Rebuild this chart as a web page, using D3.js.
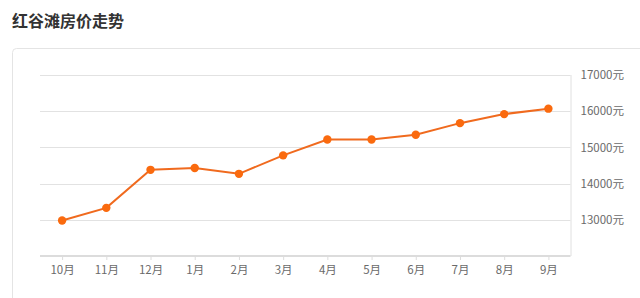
<!DOCTYPE html>
<html><head><meta charset="utf-8">
<script src="https://cdn.jsdelivr.net/npm/d3@7"></script>
<style>
html,body{margin:0;padding:0;background:#fff;}
svg{display:block;font-family:"Noto Sans CJK SC","Noto Sans",sans-serif;}
</style></head>
<body>
<svg id="c" width="640" height="298"></svg>
<script>
const title = "红谷滩房价走势";
const months = ["10月","11月","12月","1月","2月","3月","4月","5月","6月","7月","8月","9月"];
const prices = [12980,13330,14380,14430,14270,14780,15220,15220,15350,15670,15920,16070];
const yTicks = [13000,14000,15000,16000,17000];
const yUnit = "元";

(function(){
const svg = d3.select("#c");
svg.append("text").attr("x",12).attr("y",27).attr("font-size",16).attr("font-weight","bold")
  .attr("fill","#333").text(title);
svg.append("rect").attr("x",12.5).attr("y",48.5).attr("width",660).attr("height",300)
  .attr("rx",4).attr("fill","#fff").attr("stroke","#e4e4e4");

const pl=40, pr=570.5, pt=75, pb=256;
const x = d3.scalePoint().domain(months).range([pl,pr]).padding(0.5);
const y = d3.scaleLinear().domain([12000,17000]).range([pb,pt]);

svg.append("g").selectAll("line").data(yTicks).join("line")
  .attr("x1",pl).attr("x2",pr).attr("y1",d=>Math.round(y(d))+0.5).attr("y2",d=>Math.round(y(d))+0.5)
  .attr("stroke","#e2e2e2");
const ya = svg.append("g").attr("transform",`translate(${pr},0)`)
  .call(d3.axisRight(y).tickValues(yTicks).tickSize(0).tickPadding(10).tickFormat(d=>d+yUnit));
ya.select(".domain").attr("stroke","#e0e0e0").attr("d",`M0.5,${pt}V${pb}`);
ya.selectAll("text").attr("font-size",11.5).attr("fill","#6a6a6a").attr("font-family","'Noto Sans CJK SC',sans-serif");

const xa = svg.append("g").attr("transform",`translate(0,${pb})`)
  .call(d3.axisBottom(x).tickSize(4).tickPadding(6));
xa.select(".domain").attr("stroke","#dcdcdc").attr("stroke-width",2).attr("d",`M${pl},0H${pr}`);
xa.selectAll(".tick line").attr("stroke","#dcdcdc");
xa.selectAll("text").attr("font-size",11.5).attr("fill","#6a6a6a").attr("font-family","'Noto Sans CJK SC',sans-serif");

const data = months.map((m,i)=>({m,v:prices[i]}));
svg.append("path").datum(data)
  .attr("d",d3.line().x(d=>x(d.m)).y(d=>y(d.v)))
  .attr("fill","none").attr("stroke","#f06a1e").attr("stroke-width",2);
svg.append("g").selectAll("circle").data(data).join("circle")
  .attr("cx",d=>x(d.m)).attr("cy",d=>y(d.v)).attr("r",4.2).attr("fill","#fa6a0e");
})();
</script>
</body></html>
